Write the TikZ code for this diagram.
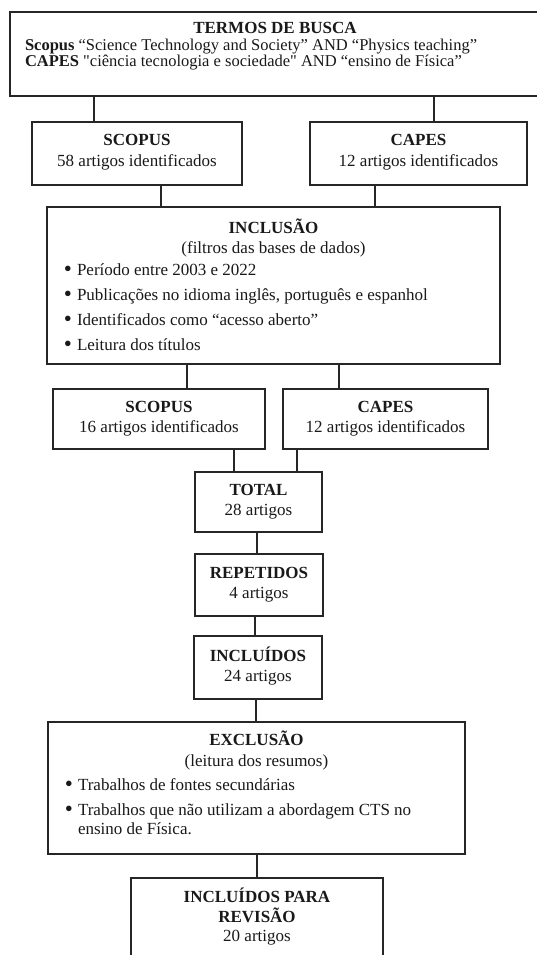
\documentclass[tikz,border=0pt]{standalone}
\usepackage{fontspec}
\setmainfont{Liberation Serif}[Ligatures=TeXOff]
\newcommand{\bul}{\llap{\raisebox{-1.6pt}{\fontsize{23}{20}\selectfont •}\hspace{5pt}}}
\begin{document}
\begin{tikzpicture}[x=1pt,y=-1pt,
  box/.style={draw=black!85, line width=1.2pt, inner sep=0pt, outer sep=0pt, fill=white},
  link/.style={draw=black!85, line width=1.2pt},
  txt/.style={inner sep=0pt, outer sep=0pt, font=\fontsize{17}{20}\selectfont, text=black!90},
  ctxt/.style={txt, anchor=base},
  ltxt/.style={txt, anchor=base west},
  toptxt/.style={ltxt, font=\fontsize{16.5}{20}\selectfont}]
\useasboundingbox[fill=white] (0,0) rectangle (536,955);
% boxes
\node[box, minimum width=540pt, minimum height=84pt] (top) at (280,54) {};
\node[box, minimum width=210pt, minimum height=63pt] (s1) at (137,153.5) {};
\node[box, minimum width=217pt, minimum height=63pt] (c1) at (418.5,153.5) {};
\node[box, minimum width=453pt, minimum height=157pt] (inc) at (273.5,285.5) {};
\node[box, minimum width=212pt, minimum height=60pt] (s2) at (159,419) {};
\node[box, minimum width=205pt, minimum height=60pt] (c2) at (385.5,419) {};
\node[box, minimum width=127pt, minimum height=60pt] (total) at (258.5,502) {};
\node[box, minimum width=128pt, minimum height=62pt] (rep) at (259,585) {};
\node[box, minimum width=128pt, minimum height=63pt] (incl) at (258,667.5) {};
\node[box, minimum width=417pt, minimum height=132pt] (exc) at (256.5,788) {};
\node[box, minimum width=252pt, minimum height=102pt] (fin) at (257,929) {};
% connector x positions
\coordinate (k1) at (94,0);
\coordinate (k2) at (434,0);
\coordinate (k3) at (161,0);
\coordinate (k4) at (375,0);
\coordinate (k5) at (187,0);
\coordinate (k6) at (339,0);
\coordinate (k7) at (234,0);
\coordinate (k8) at (297,0);
\coordinate (k9) at (257,0);
\coordinate (k10) at (255,0);
\coordinate (k11) at (256,0);
\coordinate (k12) at (257,0);
% connectors
\draw[link] (top.south -| k1) -- (s1.north -| k1);
\draw[link] (top.south -| k2) -- (c1.north -| k2);
\draw[link] (s1.south -| k3) -- (inc.north -| k3);
\draw[link] (c1.south -| k4) -- (inc.north -| k4);
\draw[link] (inc.south -| k5) -- (s2.north -| k5);
\draw[link] (inc.south -| k6) -- (c2.north -| k6);
\draw[link] (s2.south -| k7) -- (total.north -| k7);
\draw[link] (c2.south -| k8) -- (total.north -| k8);
\draw[link] (total.south -| k9) -- (rep.north -| k9);
\draw[link] (rep.south -| k10) -- (incl.north -| k10);
\draw[link] (incl.south -| k11) -- (exc.north -| k11);
\draw[link] (exc.south -| k12) -- (fin.north -| k12);
% texts: top
\node[ctxt] (tt1) at (275,34) {\textbf{TERMOS DE BUSCA}};
\node[toptxt] (tt2) at (25,51) {\textbf{Scopus} “Science Technology and Society” AND “Physics teaching”};
\node[toptxt] (tt3) at (25,67) {\textbf{CAPES} "ciência tecnologia e sociedade" AND “ensino de Física”};
% s1 c1
\node[ctxt] (ts1a) at (137,146) {\textbf{SCOPUS}};
\node[ctxt] (ts1b) at (137,166) {58 artigos identificados};
\node[ctxt] (tc1a) at (418.5,146) {\textbf{CAPES}};
\node[ctxt] (tc1b) at (418.5,166) {12 artigos identificados};
% inclusao
\node[ctxt] (ti1) at (273.5,233) {\textbf{INCLUSÃO}};
\node[ctxt] (ti2) at (273.5,253) {(filtros das bases de dados)};
\node[ltxt] (ti3) at (77,275) {\bul Período entre 2003 e 2022};
\node[ltxt] (ti4) at (77,300) {\bul Publicações no idioma inglês, português e espanhol};
\node[ltxt] (ti5) at (77,325) {\bul Identificados como “acesso aberto”};
\node[ltxt] (ti6) at (77,350) {\bul Leitura dos títulos};
% s2 c2
\node[ctxt] (ts2a) at (159,412) {\textbf{SCOPUS}};
\node[ctxt] (ts2b) at (159,432) {16 artigos identificados};
\node[ctxt] (tc2a) at (385.5,412) {\textbf{CAPES}};
\node[ctxt] (tc2b) at (385.5,432) {12 artigos identificados};
% total rep incl
\node[ctxt] (tta) at (258.5,495) {\textbf{TOTAL}};
\node[ctxt] (ttb) at (258.5,515) {28 artigos};
\node[ctxt] (tra) at (259,578) {\textbf{REPETIDOS}};
\node[ctxt] (trb) at (259,598) {4 artigos};
\node[ctxt] (tna) at (258,661) {\textbf{INCLUÍDOS}};
\node[ctxt] (tnb) at (258,681) {24 artigos};
% exclusao
\node[ctxt] (te1) at (256.5,745) {\textbf{EXCLUSÃO}};
\node[ctxt] (te2) at (256.5,766) {(leitura dos resumos)};
\node[ltxt] (te3) at (78,790) {\bul Trabalhos de fontes secundárias};
\node[ltxt] (te4) at (78,815) {\bul Trabalhos que não utilizam a abordagem CTS no};
\node[ltxt] (te5) at (78,834) {ensino de Física.};
% final
\node[ctxt] (tf1) at (257,902) {\textbf{INCLUÍDOS PARA}};
\node[ctxt] (tf2) at (257,922) {\textbf{REVISÃO}};
\node[ctxt] (tf3) at (257,941) {20 artigos};
\end{tikzpicture}
\end{document}
